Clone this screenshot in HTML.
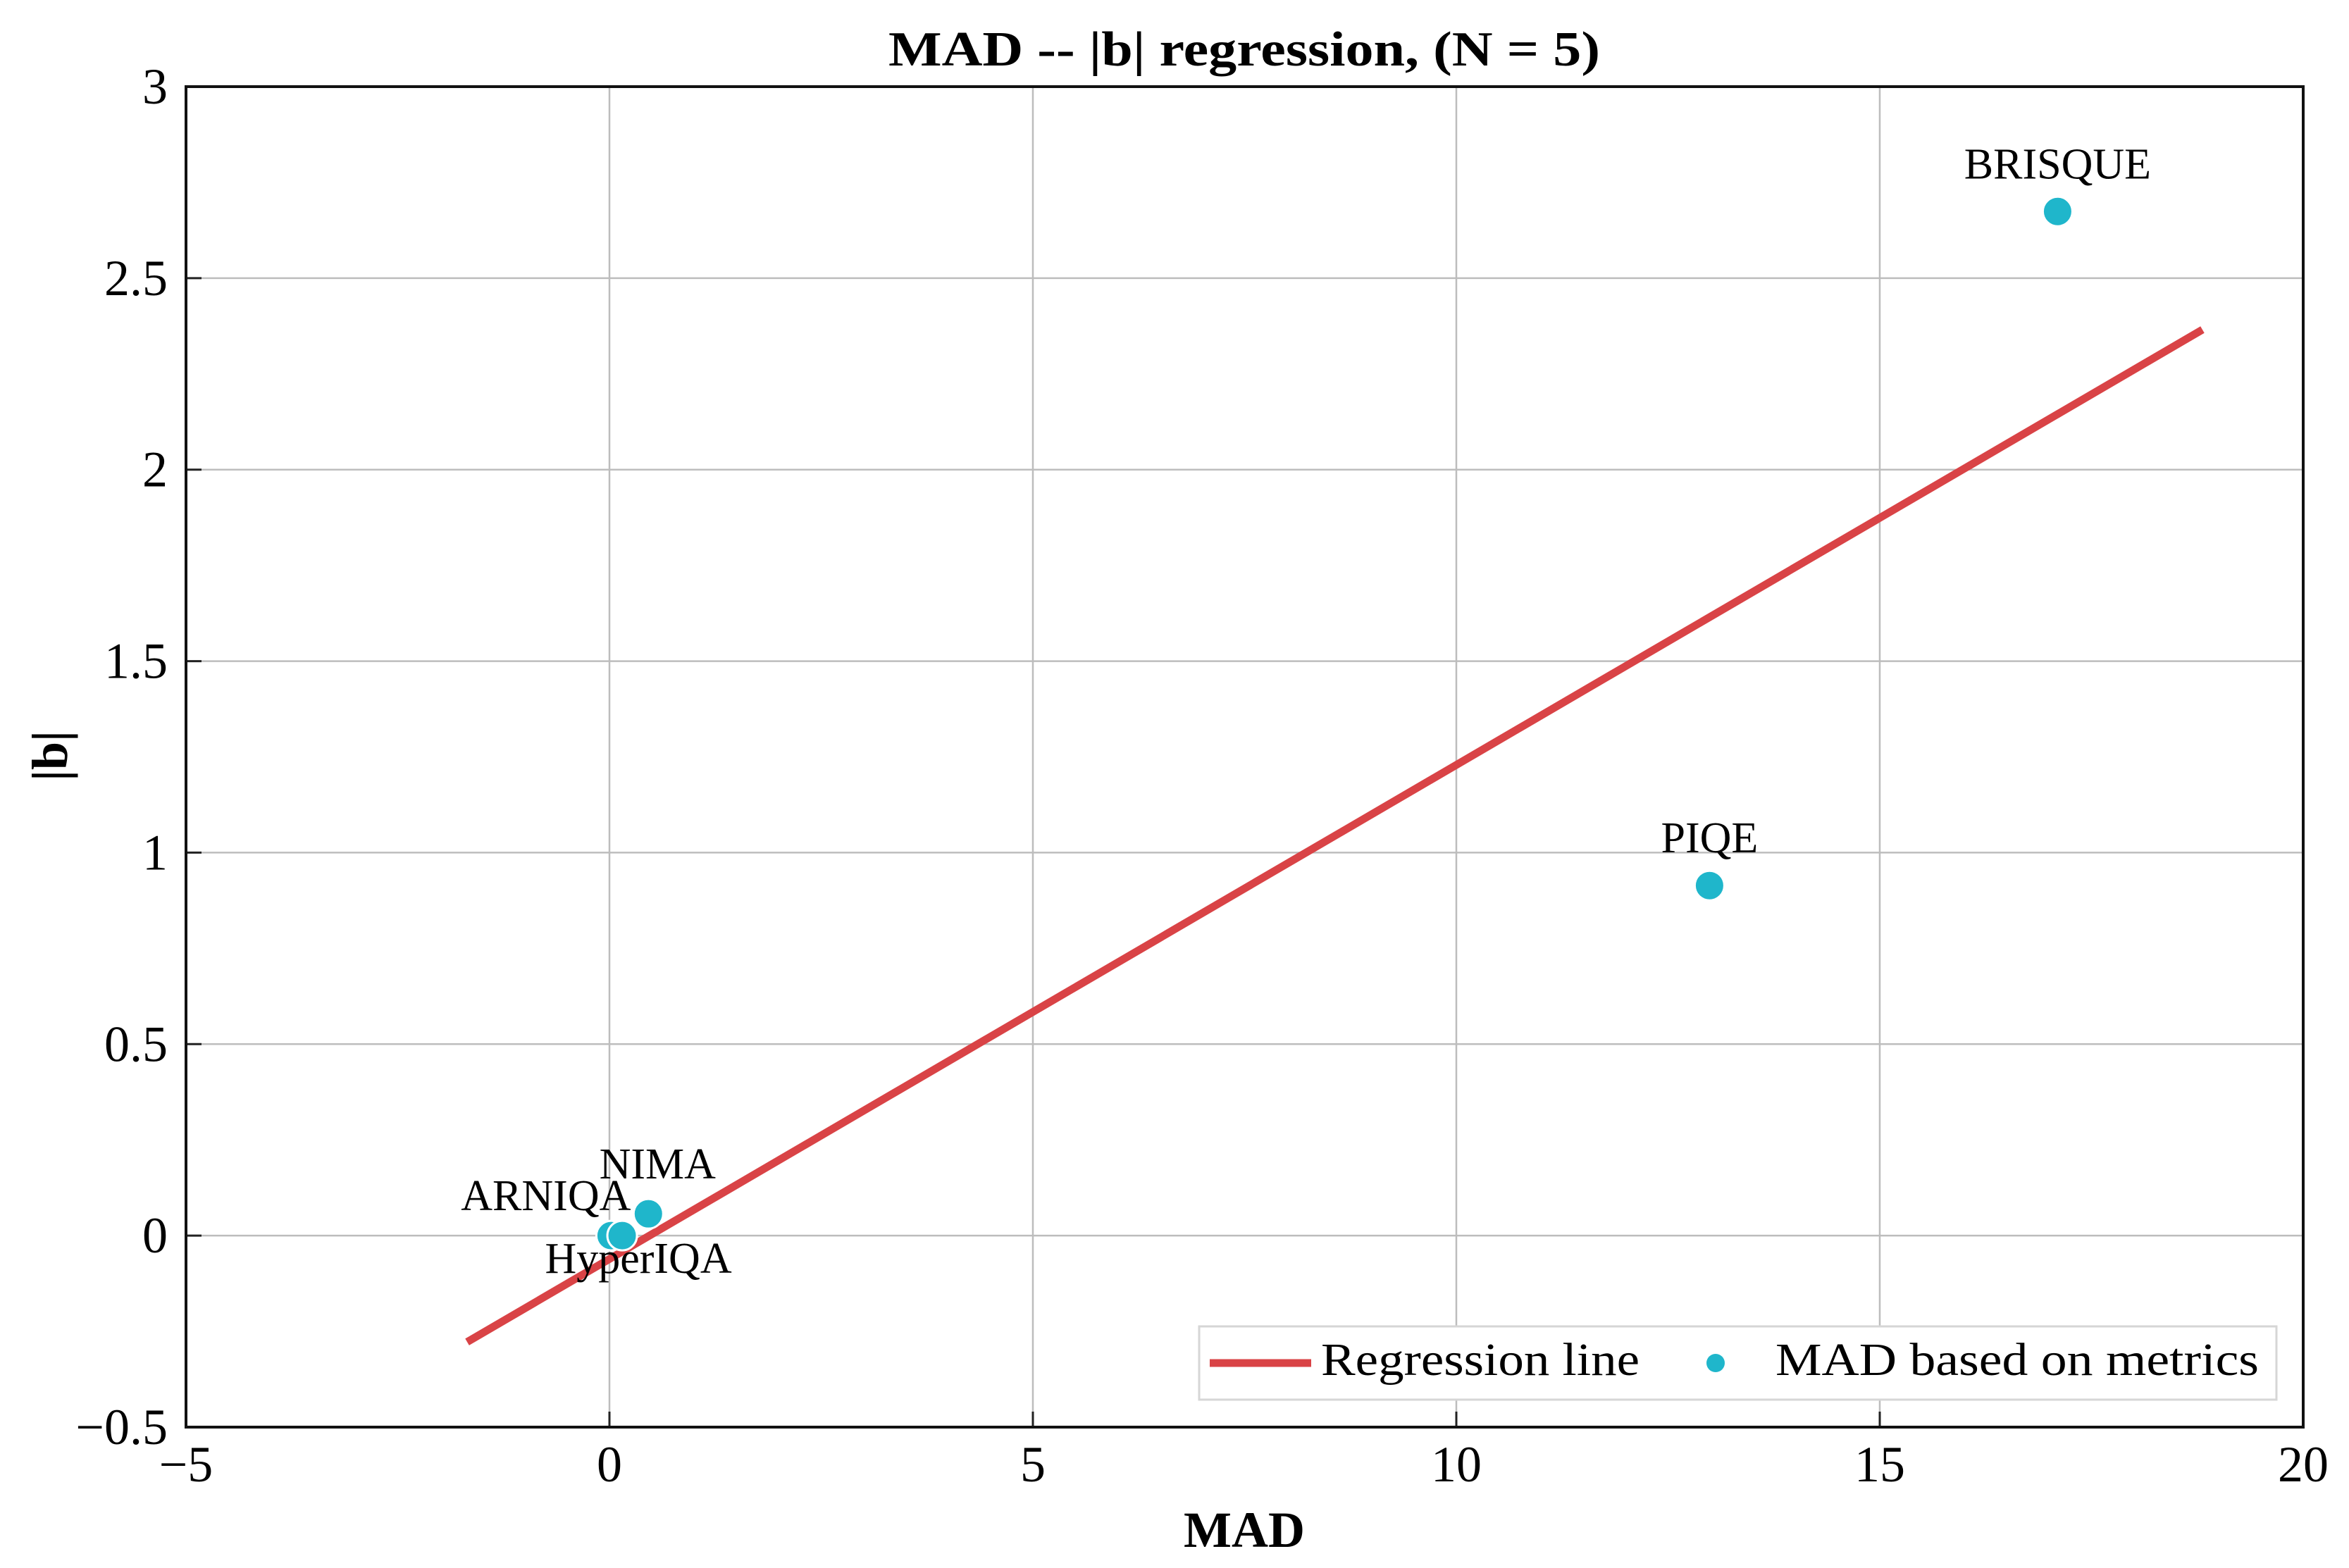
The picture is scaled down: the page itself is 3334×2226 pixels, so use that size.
<!DOCTYPE html>
<html><head><meta charset="utf-8"><style>
html,body{margin:0;padding:0;background:#fff;}
svg{display:block;}
text{font-family:"Liberation Serif",serif;fill:#000;}
</style></head><body>
<svg id="chart" width="3334" height="2226" viewBox="0 0 3334 2226" xmlns="http://www.w3.org/2000/svg">
<rect x="0" y="0" width="3334" height="2226" fill="#fff"/>
<g id="grid"></g>
<g id="marks"></g>
<g id="axes"></g>
<g id="legend"></g>
</svg>
<script>
const xTicks = [-5, 0, 5, 10, 15, 20];
const xTickLabels = ["\u22125", "0", "5", "10", "15", "20"];
const yTicks = [-0.5, 0, 0.5, 1, 1.5, 2, 2.5, 3];
const yTickLabels = ["\u22120.5", "0", "0.5", "1", "1.5", "2", "2.5", "3"];
const metricNames = ["ARNIQA", "HyperIQA", "NIMA", "PIQE", "BRISQUE"];
const madValues = [0.02, 0.15, 0.46, 12.99, 17.1];
const bValues = [0.0, 0.0, 0.057, 0.914, 2.674];
const regSlope = [0.129];
const regIntercept = [-0.061];
const regRange = [-1.68, 18.81];

const L=264, R=3269, T=123, B=2026;
const xMin=-5, xMax=20, yMin=-0.5, yMax=3;
const sx = v => L + (v - xMin) / (xMax - xMin) * (R - L);
const sy = v => B - (v - yMin) / (yMax - yMin) * (B - T);
const NS = "http://www.w3.org/2000/svg";
function mk(tag, attrs, parent, txt){
  const e = document.createElementNS(NS, tag);
  for (const k in attrs) e.setAttribute(k, attrs[k]);
  if (txt !== undefined) e.textContent = txt;
  parent.appendChild(e);
  return e;
}
const grid = document.getElementById('grid');
const marks = document.getElementById('marks');
const axes = document.getElementById('axes');
const legend = document.getElementById('legend');

xTicks.forEach((v,i)=>{
  const g = mk('line',{x1:sx(v),x2:sx(v),y1:T,y2:B,stroke:'#bdbdbd','stroke-width':2.5},grid);
  
  
  const tk = mk('line',{x1:sx(v),x2:sx(v),y1:B,y2:B-22,stroke:'#222','stroke-width':3},axes);
  
  
  const t = mk('text',{x:sx(v),y:2103,'font-size':72,'text-anchor':'middle'},axes,xTickLabels[i]);
  
  
});
yTicks.forEach((v,i)=>{
  const g = mk('line',{x1:L,x2:R,y1:sy(v),y2:sy(v),stroke:'#bdbdbd','stroke-width':2.5},grid);
  
  
  const tk = mk('line',{x1:L,x2:L+22,y1:sy(v),y2:sy(v),stroke:'#222','stroke-width':3},axes);
  
  
  const t = mk('text',{x:238,y:sy(v)+24,'font-size':72,'text-anchor':'end'},axes,yTickLabels[i]);
  
  
});
const frame = mk('rect',{x:L,y:T,width:R-L,height:B-T,fill:'none',stroke:'#111','stroke-width':4},axes);



const x0 = regRange[0], x1 = regRange[1];
const reg = mk('line',{x1:sx(x0),y1:sy(regSlope[0]*x0+regIntercept[0]),x2:sx(x1),y2:sy(regSlope[0]*x1+regIntercept[0]),stroke:'#d94346','stroke-width':11},marks);



const labelPos = {
  ARNIQA:{dx:28,dy:-36,anchor:'end'},
  HyperIQA:{dx:23,dy:53,anchor:'middle'},
  NIMA:{dx:13,dy:-50,anchor:'middle'},
  PIQE:{dx:0,dy:-47,anchor:'middle'},
  BRISQUE:{dx:0,dy:-47,anchor:'middle'}
};
metricNames.forEach((n,i)=>{
  const cx = sx(madValues[i]), cy = sy(bValues[i]);
  const c = mk('circle',{cx:cx,cy:cy,r:21,fill:'#1fb6cb',stroke:'#fff','stroke-width':3},marks);
  
  
});
metricNames.forEach((n,i)=>{
  const cx = sx(madValues[i]), cy = sy(bValues[i]);
  const p = labelPos[n];
  const t = mk('text',{x:cx+p.dx,y:cy+p.dy,'font-size':62,'text-anchor':p.anchor},marks,n);
  
  
});

const lb = mk('rect',{x:1702,y:1883,width:1529,height:104,fill:'#fff',stroke:'#d6d6d6','stroke-width':3},legend);


const ll = mk('line',{x1:1717,x2:1861,y1:1935,y2:1935,stroke:'#d94346','stroke-width':11},legend);


const lt1 = mk('text',{x:1875,y:1952,'font-size':66,textLength:452,lengthAdjust:'spacingAndGlyphs'},legend,'Regression line');


const ld = mk('circle',{cx:2435,cy:1935,r:13,fill:'#1fb6cb'},legend);


const lt2 = mk('text',{x:2520,y:1952,'font-size':66,textLength:686,lengthAdjust:'spacingAndGlyphs'},legend,'MAD based on metrics');



const title = mk('text',{x:1766,y:93,'font-size':70,'font-weight':'bold','text-anchor':'middle',textLength:1010,lengthAdjust:'spacingAndGlyphs'},axes,'MAD -- |b| regression, (N = 5)');


const xl = mk('text',{x:1766,y:2196,'font-size':72,'font-weight':'bold','text-anchor':'middle'},axes,'MAD');


const yl = mk('text',{x:0,y:0,'font-size':72,'font-weight':'bold','text-anchor':'middle',transform:'translate(95,1073) rotate(-90)'},axes,'|b|');


</script>
</body></html>
